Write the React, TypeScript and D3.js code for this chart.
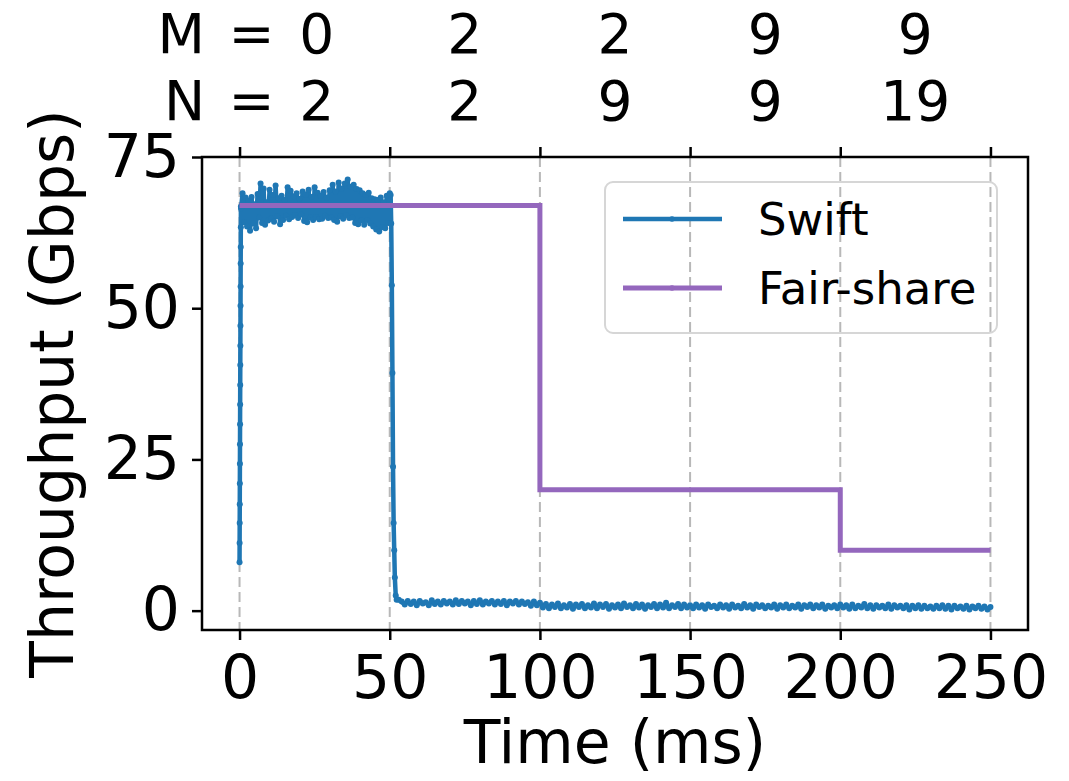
import React, { useEffect, useRef } from "react";
import * as d3 from "d3";

// ---- data ----
const xTicks = [0, 50, 100, 150, 200, 250];
const yTicks = [0, 25, 50, 75];

// top annotation: M / N per phase, centred on each phase
const phaseCentres = [25, 75, 125, 175, 225];
const mLabels = ["0", "2", "2", "9", "9"];
const nLabels = ["2", "2", "9", "9", "19"];

// Swift throughput (Gbps)
// ramp-up, sampled every 0.025 ms from t = 0
const swiftRise = [8.0, 11.2, 14.5, 17.6, 21.0, 24.3, 27.5, 30.8, 34.1, 37.3,
    40.6, 43.8, 47.1, 50.4, 53.6, 57.4, 60.1, 63.4, 66.8];
// plateau, every 0.5 ms from t = 0.5
const swiftPlateau = [
    66.5, 69.0, 64.2, 68.3, 63.5, 67.8, 62.8, 68.4, 64.0, 67.2,
    63.2, 68.9, 65.0, 70.6, 64.1, 69.8, 63.8, 67.5, 64.5, 69.6,
    64.8, 68.7, 64.3, 70.3, 65.2, 68.2, 63.9, 68.6, 64.6, 67.9,
    65.3, 70.0, 64.7, 69.4, 65.1, 68.5, 65.4, 69.0, 64.9, 68.1,
    65.5, 69.3, 64.4, 68.8, 64.2, 69.6, 65.0, 68.4, 64.6, 70.0,
    65.1, 69.1, 64.7, 68.6, 64.8, 69.2, 65.3, 68.3, 64.9, 69.5,
    65.0, 70.4, 64.6, 69.3, 64.3, 70.8, 65.2, 69.8, 64.8, 70.6,
    65.4, 71.3, 64.9, 70.1, 65.0, 70.4, 64.1, 69.7, 63.9, 69.5,
    64.5, 69.0, 63.8, 68.7, 64.6, 69.1, 64.0, 68.2, 63.5, 68.0,
    63.0, 67.9, 62.7, 68.3, 63.4, 67.5, 63.2, 68.6, 64.1, 69.0
];
// drop when the new flows arrive
const swiftDropTimes = [50.3, 50.5, 50.7, 50.9, 51.1, 51.3, 51.5, 51.7, 52.0, 52.3];
const swiftDropValues = [68.7, 64.0, 53.8, 39.3, 23.8, 14.5, 10.0, 5.5, 2.5, 1.8];
// tail, every 1 ms from t = 53
const swiftTail = [
    1.8, 1.5, 1.0, 1.6, 1.1, 1.5, 0.9, 1.6, 1.2, 1.4,
    0.9, 1.7, 1.1, 1.5, 1.0, 1.6, 1.2, 1.5, 1.0, 1.7,
    1.1, 1.6, 1.2, 1.5, 0.9, 1.6, 1.1, 1.7, 1.0, 1.5,
    1.2, 1.6, 1.0, 1.5, 1.1, 1.6, 0.9, 1.5, 1.2, 1.6,
    1.0, 1.5, 1.1, 1.4, 0.8, 1.5, 0.9, 1.3,
    0.5, 1.1, 0.4, 1.0, 0.6, 1.2, 0.4, 0.9, 0.5, 1.1,
    0.3, 1.0, 0.6, 1.1, 0.4, 0.9, 0.5, 1.2, 0.4, 1.0,
    0.6, 1.1, 0.3, 0.9, 0.5, 1.0, 0.4, 1.2, 0.6, 0.9,
    0.4, 1.1, 0.5, 1.0, 0.3, 0.9, 0.6, 1.1, 0.4, 1.0,
    0.5, 1.3, 0.4, 0.9, 0.6, 1.1, 0.4, 1.0, 0.5, 0.9,
    0.4, 1.0, 0.5, 0.9, 0.3, 1.0, 0.6, 0.8, 0.4, 1.0,
    0.5, 0.9, 0.3, 1.0, 0.5, 0.8, 0.4, 1.1, 0.5, 0.9,
    0.3, 1.0, 0.6, 0.9, 0.4, 0.8, 0.5, 1.0, 0.3, 0.9,
    0.5, 1.0, 0.4, 0.8, 0.5, 1.0, 0.3, 0.9, 0.6, 1.0,
    0.4, 0.9, 0.5, 1.0, 0.3, 0.8, 0.5, 0.9, 0.4, 1.0,
    0.5, 0.9, 0.3, 1.0, 0.4, 0.8, 0.5, 1.1, 0.4, 0.9,
    0.3, 0.9, 0.5, 0.8, 0.4, 1.0, 0.3, 0.9, 0.5, 0.8,
    0.4, 0.9, 0.2, 0.8, 0.4, 0.9, 0.3, 0.8, 0.4, 0.7,
    0.3, 0.8, 0.4, 0.9, 0.3, 0.8, 0.2, 0.8, 0.4, 0.7,
    0.3, 0.8, 0.2, 0.7, 0.4, 0.8, 0.3, 0.7, 0.2, 0.6
];

// Fair-share (step after each time)
const fairTimes = [0, 100, 200, 250];
const fairValues = [67, 20, 10, 10];

const SWIFT = "#1f77b4";
const FAIR = "#9467bd";
const FONT = "DejaVu Sans";

type Pt = [number, number];

export default function App() {
    const ref = useRef<SVGSVGElement>(null);

    useEffect(() => {
        const width = 1069, height = 781;
        const margin = { top: 157, right: 1069 - 1028, bottom: 781 - 630, left: 202 };

        const svg = d3.select(ref.current);
        svg.selectAll("*").remove();

        const x = d3.scaleLinear().domain([-12.5, 262.5]).range([margin.left, width - margin.right]);
        const y = d3.scaleLinear().domain([-3.2, 75]).range([height - margin.bottom, margin.top]);

        // assemble swift series
        const swift: Pt[] = [];
        swiftRise.forEach((v, i) => swift.push([i * 0.025, v]));
        swiftPlateau.forEach((v, i) => swift.push([0.5 + i * 0.5, v]));
        swiftDropTimes.forEach((t, i) => swift.push([t, swiftDropValues[i]]));
        swiftTail.forEach((v, i) => swift.push([53 + i, v]));

        const fair: Pt[] = fairTimes.map((t, i) => [t, fairValues[i]]);

        // grid
        svg.append("g")
            .selectAll("line")
            .data(xTicks)
            .join("line")
            .attr("x1", d => x(d))
            .attr("x2", d => x(d))
            .attr("y1", y.range()[1])
            .attr("y2", y.range()[0])
            .attr("stroke", "#b8b8b8")
            .attr("stroke-width", 2)
            .attr("stroke-dasharray", "10,5");

        // swift
        const line = d3.line<Pt>().x(d => x(d[0])).y(d => y(d[1]));
        svg.append("path")
            .datum(swift)
            .attr("fill", "none")
            .attr("stroke", SWIFT)
            .attr("stroke-width", 4.5)
            .attr("stroke-linejoin", "round")
            .attr("d", line);
        svg.append("g")
            .selectAll("circle")
            .data(swift)
            .join("circle")
            .attr("cx", d => x(d[0]))
            .attr("cy", d => y(d[1]))
            .attr("r", 3)
            .attr("fill", SWIFT);

        // fair-share
        const stepLine = d3.line<Pt>().x(d => x(d[0])).y(d => y(d[1])).curve(d3.curveStepAfter);
        svg.append("path")
            .datum(fair)
            .attr("fill", "none")
            .attr("stroke", FAIR)
            .attr("stroke-width", 5)
            .attr("d", stepLine);

        // axes
        const fontSize = 60;
        const styleAxis = (g: any) => {
            g.select(".domain").remove();
            g.selectAll(".tick line").attr("stroke", "#000").attr("stroke-width", 2.5);
            g.selectAll(".tick text").attr("font-family", FONT).attr("font-size", fontSize).attr("fill", "#000");
        };

        svg.append("g")
            .attr("transform", `translate(0,${y.range()[0]})`)
            .call(d3.axisBottom(x).tickValues(xTicks).tickSize(10).tickSizeOuter(0).tickPadding(15))
            .call(styleAxis);

        svg.append("g")
            .attr("transform", `translate(0,${y.range()[1]})`)
            .call(d3.axisTop(x).tickValues(xTicks).tickSize(10).tickSizeOuter(0).tickFormat(() => ""))
            .call(styleAxis);

        svg.append("g")
            .attr("transform", `translate(${x.range()[0]},0)`)
            .call(d3.axisLeft(y).tickValues(yTicks).tickSize(10).tickSizeOuter(0).tickPadding(12))
            .call(styleAxis);

        // frame
        svg.append("rect")
            .attr("x", x.range()[0])
            .attr("y", y.range()[1])
            .attr("width", x.range()[1] - x.range()[0])
            .attr("height", y.range()[0] - y.range()[1])
            .attr("fill", "none")
            .attr("stroke", "#000")
            .attr("stroke-width", 2.5);

        // axis labels
        svg.append("text")
            .attr("x", (x.range()[0] + x.range()[1]) / 2)
            .attr("y", 763)
            .attr("text-anchor", "middle")
            .attr("font-family", FONT)
            .attr("font-size", fontSize)
            .text("Time (ms)");

        svg.append("text")
            .attr("transform", `translate(73,${(y.range()[0] + y.range()[1]) / 2}) rotate(-90)`)
            .attr("text-anchor", "middle")
            .attr("font-family", FONT)
            .attr("font-size", fontSize)
            .text("Throughput (Gbps)");

        // M / N annotation above the plot
        const topSize = 55;
        const rows = [{ prefix: "M =", labels: mLabels, base: 53 }, { prefix: "N =", labels: nLabels, base: 120 }];
        rows.forEach(row => {
            svg.append("text")
                .attr("x", x(phaseCentres[0]) - 40)
                .attr("y", row.base)
                .attr("text-anchor", "end")
                .attr("font-family", FONT)
                .attr("font-size", topSize)
                .attr("word-spacing", 6)
                .text(row.prefix);
            svg.append("g")
                .selectAll("text")
                .data(row.labels)
                .join("text")
                .attr("x", (d, i) => x(phaseCentres[i]) + (i === 0 ? 2 : 0))
                .attr("y", row.base)
                .attr("text-anchor", "middle")
                .attr("font-family", FONT)
                .attr("font-size", topSize)
                .text(d => d);
        });

        // legend
        const legend = svg.append("g");
        legend.append("rect")
            .attr("x", 605).attr("y", 182)
            .attr("width", 392).attr("height", 151)
            .attr("rx", 8)
            .attr("fill", "#fff").attr("fill-opacity", 0)
            .attr("stroke", "#d6d6d6").attr("stroke-width", 2);
        const items = [{ name: "Swift", color: SWIFT, w: 4.5 }, { name: "Fair-share", color: FAIR, w: 5 }];
        items.forEach((it, i) => {
            const ly = 219 + i * 69;
            legend.append("line")
                .attr("x1", 623).attr("x2", 722)
                .attr("y1", ly).attr("y2", ly)
                .attr("stroke", it.color).attr("stroke-width", it.w);
            legend.append("circle")
                .attr("cx", 672).attr("cy", ly).attr("r", 2.8).attr("fill", it.color);
            legend.append("text")
                .attr("x", 758).attr("y", ly)
                .attr("dy", "0.35em")
                .attr("font-family", FONT)
                .attr("font-size", 45)
                .text(it.name);
        });
    }, []);

    return (
        <svg ref={ref} width={1069} height={781}
             style={{ position: "absolute", left: 0, top: 0, background: "#fff" }} />
    );
}
